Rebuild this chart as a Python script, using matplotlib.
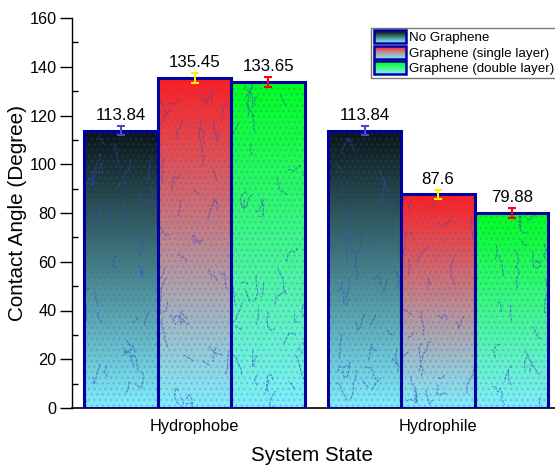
import numpy as np
import matplotlib
matplotlib.use("Agg")
import matplotlib.pyplot as plt
from matplotlib.patches import Rectangle
from matplotlib.legend_handler import HandlerBase
from matplotlib.ticker import MultipleLocator
from matplotlib.colors import to_rgb

plt.rcParams["font.family"] = ["Liberation Sans", "DejaVu Sans"]

# Contact angle data
states = ["Hydrophobe", "Hydrophile"]
series = ["No Graphene", "Graphene (single layer)", "Graphene (double layer)"]
angles = [
    [113.84, 113.84],   # no graphene
    [135.45, 87.6],     # single layer
    [133.65, 79.88],    # double layer
]
errors = [
    [2.0, 2.0],
    [2.0, 2.0],
    [2.0, 2.0],
]
value_labels = [
    ["113.84", "113.84"],
    ["135.45", "87.6"],
    ["133.65", "79.88"],
]

top_colors = ["#0a1414", "#ff1e1e", "#00ff1e"]
bottom_color = "#80eefa"
err_colors = ["#4a4ac8", "#ffee00", "#ff0000"]
edge_blue = "#0000a0"
width = 0.302


def gradient_image(top, bottom, n=256):
    t = np.linspace(0, 1, n)[:, None]
    a, b = np.array(to_rgb(top)), np.array(to_rgb(bottom))
    return (a * (1 - t) + b * t)[:, None, :].repeat(2, axis=1)


def crack_lines(ax, x0, x1, y1, clip, rng):
    # short wandering strokes that give the bars their crackle texture
    n = int((x1 - x0) * (y1) * 1.1)
    for _ in range(n):
        px = rng.uniform(x0, x1)
        py = rng.uniform(0, y1)
        xs, ys = [px], [py]
        ang = rng.uniform(0, 2 * np.pi)
        for _ in range(rng.integers(2, 5)):
            ang += rng.normal(0, 0.8)
            px += 0.014 * np.cos(ang)
            py += 3.5 * np.sin(ang)
            xs.append(px)
            ys.append(py)
        ln, = ax.plot(xs, ys, color="#3646c8", lw=0.8, alpha=0.6,
                      ls=(0, (3, 1)), zorder=2)
        ln.set_clip_path(clip)


class GradientHandler(HandlerBase):
    def __init__(self, top):
        super().__init__()
        self.top = top

    def create_artists(self, legend, orig_handle, xdescent, ydescent,
                       width, height, fontsize, trans):
        artists = []
        n = 12
        img = gradient_image(self.top, bottom_color, n)
        h = height / n
        for i in range(n):
            r = Rectangle((-xdescent, -ydescent + height - (i + 1) * h),
                          width, h, facecolor=img[i, 0], edgecolor="none",
                          transform=trans)
            artists.append(r)
        artists.append(Rectangle((-xdescent, -ydescent), width, height,
                                 facecolor="none", edgecolor=edge_blue,
                                 lw=1.8, transform=trans))
        return artists


fig = plt.figure(figsize=(5.55, 4.66), dpi=100)
ax = fig.add_axes([72 / 555, 58 / 466, 483 / 555, 390 / 466])
rng = np.random.default_rng(7)

x = np.arange(len(states))
handles = []
for i, name in enumerate(series):
    xs = x + (i - 1) * width
    for j, xc in enumerate(xs):
        h = angles[i][j]
        x0, x1 = xc - width / 2, xc + width / 2
        bar = Rectangle((x0, 0), width, h, facecolor="none",
                        edgecolor="none", zorder=1)
        ax.add_patch(bar)
        im = ax.imshow(gradient_image(top_colors[i], bottom_color),
                       extent=[x0, x1, 0, h], aspect="auto", zorder=1,
                       interpolation="bilinear")
        im.set_clip_path(bar)
        dots = Rectangle((x0, 0), width, h, facecolor="none",
                         edgecolor=(0.25, 0.3, 0.85, 0.22), lw=0,
                         hatch="...", zorder=2)
        ax.add_patch(dots)
        crack_lines(ax, x0, x1, h, bar, rng)
        ax.add_patch(Rectangle((x0, 0), width, h, facecolor="none",
                               edgecolor=edge_blue, lw=2.2, zorder=3))
        ax.errorbar(xc, h, yerr=errors[i][j], color=err_colors[i],
                    capsize=3.2, elinewidth=1.5, capthick=1.5, zorder=4)
        ax.text(xc, h + errors[i][j] + 1.2, value_labels[i][j],
                ha="center", va="bottom", fontsize=12.2, zorder=5)
    handles.append(Rectangle((0, 0), 1, 1, label=name))

ax.set_xlim(-0.503, 1.48)
ax.set_ylim(0, 160)
ax.set_xticks(x)
ax.set_xticklabels(states, fontsize=11.8)
ax.tick_params(axis="x", length=0, pad=8)
ax.yaxis.set_major_locator(MultipleLocator(20))
ax.yaxis.set_minor_locator(MultipleLocator(10))
ax.tick_params(axis="y", which="major", direction="out", length=9,
               width=1, labelsize=11.7, pad=2)
ax.tick_params(axis="y", which="minor", direction="in", length=4, width=1)
for s in ["top", "right"]:
    ax.spines[s].set_visible(False)
ax.spines["left"].set_linewidth(1.0)
ax.spines["bottom"].set_linewidth(1.2)

ax.set_ylabel("Contact Angle (Degree)", fontsize=14.9)
ax.yaxis.set_label_coords(-0.093, 0.5)
ax.set_xlabel("System State", fontsize=14.8)
ax.xaxis.set_label_coords(0.497, -0.097)

leg = ax.legend(handles=handles, loc="upper right",
                bbox_to_anchor=(1.005, 0.975),
                handler_map={h: GradientHandler(c)
                             for h, c in zip(handles, top_colors)},
                fontsize=9.6, frameon=True, fancybox=False,
                handlelength=2.4, handleheight=1.1, handletextpad=0.25,
                labelspacing=0.12, borderpad=0.2, borderaxespad=0)
leg.get_frame().set_edgecolor("#555555")
leg.get_frame().set_linewidth(1.0)

fig.savefig("out.png", dpi=100)
